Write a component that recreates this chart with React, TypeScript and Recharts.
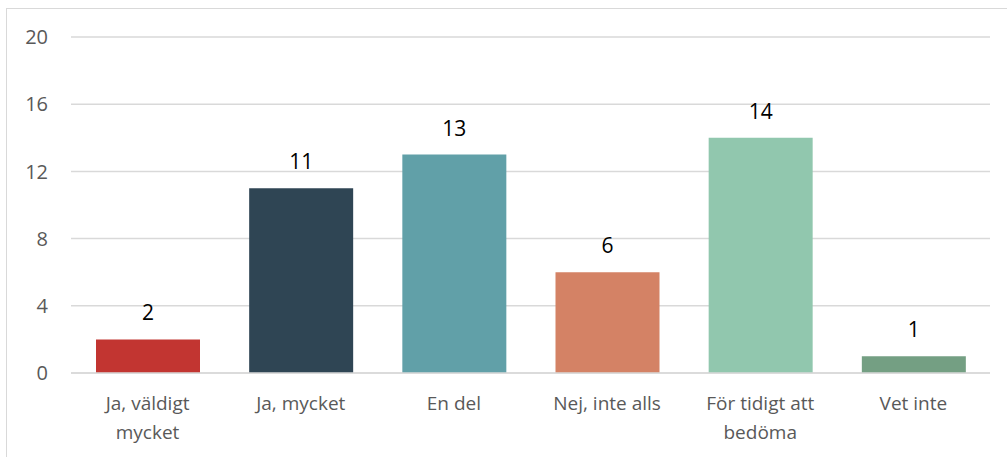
import { BarChart, Bar, XAxis, YAxis, CartesianGrid, Cell, LabelList } from "recharts";

const categories = ["Ja, väldigt mycket", "Ja, mycket", "En del", "Nej, inte alls", "För tidigt att bedöma", "Vet inte"];
const categoryLines = [["Ja, väldigt", "mycket"], ["Ja, mycket"], ["En del"], ["Nej, inte alls"], ["För tidigt att", "bedöma"], ["Vet inte"]];
const values = [2, 11, 13, 6, 14, 1];
const colors = ["#c23531", "#2f4554", "#61a0a8", "#d48265", "#91c7ae", "#749f83"];
const yTicks = [0, 4, 8, 12, 16, 20];

const data = categories.map((name, i) => ({ name, value: values[i] }));

const font = "'Open Sans', 'Noto Sans', sans-serif";

function CategoryTick(props: any) {
  const { x, y, index } = props;
  const lines = categoryLines[index] || [];
  return (
    <text x={x} y={y} textAnchor="middle" fill="#595959" fontSize={19} fontFamily={font}>
      {lines.map((l, i) => (
        <tspan key={i} x={x} dy={i === 0 ? 29 : 29}>
          {l}
        </tspan>
      ))}
    </text>
  );
}

export default function App() {
  return (
    <div
      style={{
        position: "absolute",
        left: 0,
        top: 0,
        width: 1007,
        height: 457,
        background: "#fff",
        overflow: "hidden",
      }}
    >
      <div
        style={{
          position: "absolute",
          left: 6,
          top: 8,
          width: 1020,
          height: 470,
          border: "1.5px solid #d9d9d9",
          boxSizing: "border-box",
        }}
      />
      <div style={{ position: "absolute", left: 0, top: 0 }}>
        <BarChart width={1007} height={457} data={data} margin={{ top: 37, right: 17, left: 11, bottom: 0 }}>
          <CartesianGrid vertical={false} stroke="#d9d9d9" strokeWidth={1.5} />
          <XAxis
            dataKey="name"
            axisLine={{ stroke: "#d9d9d9", strokeWidth: 1.5 }}
            tickLine={false}
            interval={0}
            tick={<CategoryTick />}
            height={84}
          />
          <YAxis
            width={60}
            domain={[0, 20]}
            ticks={yTicks}
            axisLine={false}
            tickLine={false}
            tickSize={0}
            tickMargin={23}
            tick={{ fill: "#595959", fontSize: 20, fontFamily: font }}
          />
          <Bar dataKey="value" barSize={104} isAnimationActive={false}>
            {data.map((d, i) => (
              <Cell key={d.name} fill={colors[i]} />
            ))}
            <LabelList dataKey="value" position="top" offset={19} fill="#000" fontSize={21} fontFamily={font} />
          </Bar>
        </BarChart>
      </div>
    </div>
  );
}
